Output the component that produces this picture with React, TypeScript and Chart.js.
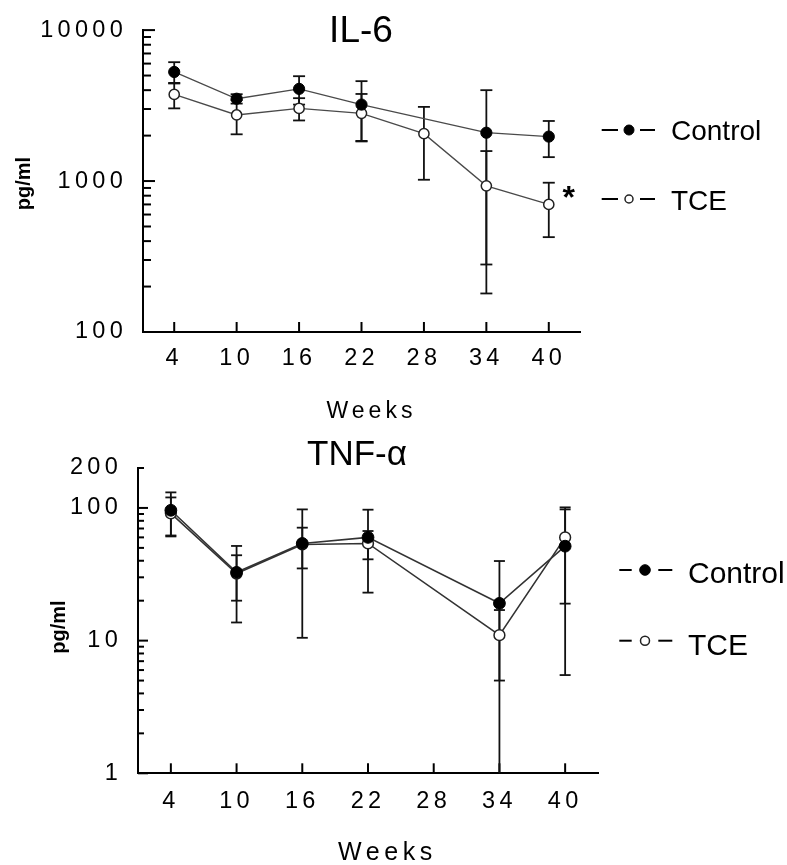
import React, { useEffect, useRef } from 'react';
import { Chart, registerables } from 'chart.js';

Chart.register(...registerables);

// ---- data -------------------------------------------------------------
const weeks = ['4', '10', '16', '22', '28', '34', '40'];
const seriesNames = ['Control', 'TCE'];

// IL-6, pg/ml (mean and SD per week)
const il6Control = [5280, 3510, 4080, 3210, null, 2090, 1970];
const il6ControlSD = [850, 250, 870, 1380, null, 1910, 530];
const il6Tce = [3750, 2740, 3030, 2810, 2060, 930, 700];
const il6TceSD = [720, 700, 510, 965, 1040, 650, 275];
const il6TceSignificant = [false, false, false, false, false, false, true];
const il6YTicks = [100, 1000, 10000];

// TNF-α, pg/ml (mean and SD per week)
const tnfControl = [96, 32.7, 54, 60, null, 19.1, 51.5];
const tnfControlSD = [35, 19, 43.5, 37, null, 20.7, 46];
const tnfTce = [91, 32, 53, 54, null, 11, 60];
const tnfTceSD = [29, 12, 18, 13, null, 6, 41];
const tnfTceSignificant = [false, false, false, false, false, false, false];
const tnfYTicks = [1, 10, 100, 200];

// ---- styling / layout ---------------------------------------------------
const FONT = '"Liberation Sans", Arial, Helvetica, sans-serif';
const WIDTH = 787;

type Panel = {
  title: string;
  top: number;
  height: number;
  area: { left: number; top: number; right: number; bottom: number };
  yMin: number;
  yMax: number;
  yTicks: number[];
  control: (number | null)[];
  controlSD: (number | null)[];
  tce: (number | null)[];
  tceSD: (number | null)[];
  significant: boolean[];
  lineColor: string;
  lineWidth: number;
  ctrlR: number;
  tceR: number;
  majorTick: number;
  minorTick: number;
  xTick: number;
  cap: number;
  tickFont: number;
  xTickPad: number;
  yTickPad: number;
  titleX: number;
  titleBase: number;
  titleSize: number;
  weeksX: number;
  weeksBase: number;
  weeksSize: number;
  weeksSpacing: number;
  unitX: number;
  unitY: number;
  legend: {
    seg: [number, number, number, number];
    markerX: number;
    rows: number[];
    bases: number[];
    textX: number;
    size: number;
    ctrlR: number;
    tceR: number;
  };
};

const il6Panel: Panel = {
  title: 'IL-6',
  top: 0,
  height: 432,
  area: { left: 143, top: 23, right: 580, bottom: 332 },
  yMin: 100,
  yMax: 10000,
  yTicks: il6YTicks,
  control: il6Control,
  controlSD: il6ControlSD,
  tce: il6Tce,
  tceSD: il6TceSD,
  significant: il6TceSignificant,
  lineColor: '#4a4a4a',
  lineWidth: 1.3,
  ctrlR: 5.6,
  tceR: 5.1,
  majorTick: 12,
  minorTick: 8,
  xTick: 10,
  cap: 6,
  tickFont: 23.5,
  xTickPad: 12,
  yTickPad: 16,
  titleX: 361,
  titleBase: 41.7,
  titleSize: 37,
  weeksX: 326.5,
  weeksBase: 418.3,
  weeksSize: 23,
  weeksSpacing: 4,
  unitX: 24,
  unitY: 183.5,
  legend: {
    seg: [601.7, 618, 640, 655],
    markerX: 629,
    rows: [130, 199],
    bases: [140, 210],
    textX: 671,
    size: 28,
    ctrlR: 5,
    tceR: 4,
  },
};

const tnfPanel: Panel = {
  title: 'TNF-α',
  top: 432,
  height: 433,
  area: { left: 138, top: 36, right: 598, bottom: 341.3 },
  yMin: 1,
  yMax: 200,
  yTicks: tnfYTicks,
  control: tnfControl,
  controlSD: tnfControlSD,
  tce: tnfTce,
  tceSD: tnfTceSD,
  significant: tnfTceSignificant,
  lineColor: '#333333',
  lineWidth: 1.6,
  ctrlR: 5.9,
  tceR: 5.4,
  majorTick: 10,
  minorTick: 6,
  xTick: 10,
  cap: 5.5,
  tickFont: 23.5,
  xTickPad: 14,
  yTickPad: 16,
  titleX: 357,
  titleBase: 33,
  titleSize: 35,
  weeksX: 338,
  weeksBase: 428,
  weeksSize: 25,
  weeksSpacing: 4.6,
  unitX: 59,
  unitY: 195,
  legend: {
    seg: [619.3, 631.7, 658.3, 672.3],
    markerX: 645,
    rows: [138, 208.7],
    bases: [151.3, 223],
    textX: 688,
    size: 30,
    ctrlR: 5.3,
    tceR: 4.5,
  },
};

// ---- drawing helpers ----------------------------------------------------
function line(ctx: CanvasRenderingContext2D, x1: number, y1: number, x2: number, y2: number) {
  ctx.beginPath();
  ctx.moveTo(x1, y1);
  ctx.lineTo(x2, y2);
  ctx.stroke();
}

function decorPlugin(p: Panel) {
  return {
    id: 'decor',
    beforeDraw(chart: any) {
      // spaced-out digits on the axis tick labels
      chart.ctx.letterSpacing = '4.3px';
    },
    beforeDatasetsDraw(chart: any) {
      const ctx: CanvasRenderingContext2D = chart.ctx;
      const xs = chart.scales.x;
      const ys = chart.scales.y;
      const ca = chart.chartArea;
      ctx.save();
      ctx.strokeStyle = '#000';
      ctx.lineWidth = 2;

      // inward log ticks: long at each decade, short in between
      const d0 = Math.floor(Math.log10(p.yMin));
      const d1 = Math.ceil(Math.log10(p.yMax));
      for (let d = d0; d <= d1; d++) {
        for (let m = 1; m <= 9; m++) {
          const v = m * Math.pow(10, d);
          if (v < p.yMin * 0.999 || v > p.yMax * 1.001) continue;
          const py = ys.getPixelForValue(v);
          line(ctx, ca.left, py, ca.left + (m === 1 ? p.majorTick : p.minorTick), py);
        }
      }
      // inward week ticks
      weeks.forEach((_, i) => {
        const px = xs.getPixelForValue(i);
        line(ctx, px, ca.bottom, px, ca.bottom - p.xTick);
      });

      // error bars (mean ± SD)
      ctx.strokeStyle = '#111';
      ctx.lineWidth = 1.8;
      const groups: [(number | null)[], (number | null)[]][] = [
        [p.control, p.controlSD],
        [p.tce, p.tceSD],
      ];
      groups.forEach(([vals, sds]) => {
        vals.forEach((v, i) => {
          const sd = sds[i];
          if (v == null || sd == null) return;
          const px = xs.getPixelForValue(i);
          const hi = Math.min(v + sd, p.yMax);
          const loRaw = v - sd;
          const clipped = loRaw <= p.yMin;
          const lo = clipped ? p.yMin : loRaw;
          const yHi = ys.getPixelForValue(hi);
          const yLo = ys.getPixelForValue(lo);
          line(ctx, px, yHi, px, yLo);
          line(ctx, px - p.cap, yHi, px + p.cap, yHi);
          if (!clipped) line(ctx, px - p.cap, yLo, px + p.cap, yLo);
        });
      });
      ctx.restore();
    },
    afterDraw(chart: any) {
      const ctx: CanvasRenderingContext2D = chart.ctx;
      const xs = chart.scales.x;
      const ys = chart.scales.y;
      ctx.save();
      ctx.letterSpacing = '0px';
      ctx.fillStyle = '#000';

      // panel title
      ctx.font = `${p.titleSize}px ${FONT}`;
      ctx.textAlign = 'center';
      ctx.textBaseline = 'alphabetic';
      ctx.fillText(p.title, p.titleX, p.titleBase);

      // x axis title
      ctx.save();
      ctx.letterSpacing = `${p.weeksSpacing}px`;
      ctx.font = `${p.weeksSize}px ${FONT}`;
      ctx.textAlign = 'left';
      ctx.fillText('Weeks', p.weeksX, p.weeksBase);
      ctx.restore();

      // y axis title
      ctx.save();
      ctx.translate(p.unitX, p.unitY);
      ctx.rotate(-Math.PI / 2);
      ctx.font = `bold 20px ${FONT}`;
      ctx.textAlign = 'center';
      ctx.textBaseline = 'middle';
      ctx.fillText('pg/ml', 0, 0);
      ctx.restore();

      // significance marks next to TCE points
      ctx.font = `bold 32px ${FONT}`;
      ctx.textAlign = 'center';
      ctx.textBaseline = 'alphabetic';
      p.significant.forEach((flag, i) => {
        const v = p.tce[i];
        if (!flag || v == null) return;
        const cx = xs.getPixelForValue(i) + 20;
        const cy = ys.getPixelForValue(v) - 12.5;
        const m = ctx.measureText('*');
        const base = cy + (m.actualBoundingBoxAscent - m.actualBoundingBoxDescent) / 2;
        ctx.fillText('*', cx, base);
      });

      // legend: —●— Control / —○— TCE
      const L = p.legend;
      chart.data.datasets.forEach((ds: any, k: number) => {
        const y = L.rows[k];
        ctx.strokeStyle = '#000';
        ctx.lineWidth = 2;
        line(ctx, L.seg[0], y, L.seg[1], y);
        line(ctx, L.seg[2], y, L.seg[3], y);
        ctx.beginPath();
        ctx.arc(L.markerX, y, k === 0 ? L.ctrlR : L.tceR, 0, Math.PI * 2);
        ctx.fillStyle = ds.pointBackgroundColor;
        ctx.fill();
        ctx.lineWidth = ds.pointBorderWidth;
        ctx.strokeStyle = ds.pointBorderColor;
        ctx.stroke();
        ctx.fillStyle = '#000';
        ctx.font = `${L.size}px ${FONT}`;
        ctx.textAlign = 'left';
        ctx.textBaseline = 'alphabetic';
        ctx.fillText(ds.label, L.textX, L.bases[k]);
      });
      ctx.restore();
    },
  };
}

function buildConfig(p: Panel): any {
  return {
    type: 'line',
    data: {
      labels: weeks,
      datasets: [
        {
          label: seriesNames[0],
          data: p.control,
          borderColor: p.lineColor,
          borderWidth: p.lineWidth,
          pointRadius: p.ctrlR,
          pointBackgroundColor: '#000',
          pointBorderColor: '#000',
          pointBorderWidth: 1,
          spanGaps: true,
          tension: 0,
          fill: false,
        },
        {
          label: seriesNames[1],
          data: p.tce,
          borderColor: p.lineColor,
          borderWidth: p.lineWidth,
          pointRadius: p.tceR,
          pointBackgroundColor: '#fff',
          pointBorderColor: '#222',
          pointBorderWidth: 1.5,
          spanGaps: true,
          tension: 0,
          fill: false,
        },
      ],
    },
    options: {
      animation: false,
      responsive: false,
      events: [],
      layout: {
        padding: { left: 0, top: p.area.top, right: WIDTH - p.area.right, bottom: 0 },
      },
      plugins: {
        legend: { display: false },
        title: { display: false },
        tooltip: { enabled: false },
      },
      scales: {
        x: {
          type: 'category',
          offset: true,
          grid: { display: false, drawTicks: false },
          border: { display: true, color: '#000', width: 2 },
          ticks: {
            color: '#000',
            font: { family: FONT, size: p.tickFont },
            padding: p.xTickPad,
            autoSkip: false,
            maxRotation: 0,
            minRotation: 0,
          },
          afterFit: (s: any) => {
            s.height = p.height - p.area.bottom;
          },
        },
        y: {
          type: 'logarithmic',
          min: p.yMin,
          max: p.yMax,
          grid: { display: false, drawTicks: false },
          border: { display: true, color: '#000', width: 2 },
          ticks: {
            color: '#000',
            font: { family: FONT, size: p.tickFont },
            padding: p.yTickPad,
            callback: (v: number) => String(v),
          },
          afterBuildTicks: (s: any) => {
            s.ticks = p.yTicks.map((v) => ({ value: v }));
          },
          afterFit: (s: any) => {
            s.width = p.area.left;
          },
        },
      },
    },
    plugins: [decorPlugin(p)],
  };
}

function CytokinePanel({ panel }: { panel: Panel }) {
  const ref = useRef<HTMLCanvasElement>(null);
  useEffect(() => {
    if (!ref.current) return;
    const chart = new Chart(ref.current, buildConfig(panel));
    return () => chart.destroy();
  }, [panel]);
  return (
    <canvas
      ref={ref}
      width={WIDTH}
      height={panel.height}
      style={{
        position: 'absolute',
        left: 0,
        top: panel.top,
        width: WIDTH,
        height: panel.height,
        display: 'block',
      }}
    />
  );
}

export default function App() {
  return (
    <div
      style={{
        position: 'absolute',
        left: 0,
        top: 0,
        width: WIDTH,
        height: 865,
        background: '#fff',
        overflow: 'hidden',
      }}
    >
      <CytokinePanel panel={il6Panel} />
      <CytokinePanel panel={tnfPanel} />
    </div>
  );
}
